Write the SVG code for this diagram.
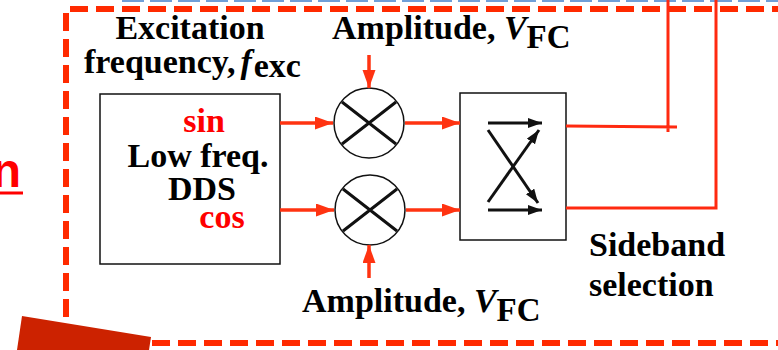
<svg xmlns="http://www.w3.org/2000/svg" width="778" height="350" viewBox="0 0 778 350">
<style>
.t{font-family:"Liberation Serif","Times New Roman",serif;font-weight:bold;font-size:34px;fill:#000}
.r{fill:#ff0000}
.box{fill:#fff;stroke:#111;stroke-width:1.5}
.mix{fill:#fff;stroke:#111;stroke-width:1.5}
.x{stroke:#111;stroke-width:3;fill:none}
.ra{stroke:#ff3311;stroke-width:3.5;fill:none;marker-end:url(#rh)}
.ba{stroke:#111;stroke-width:3;fill:none;marker-end:url(#bh)}
.out{stroke:#ff2a10;stroke-width:3;fill:none}
.dash{stroke:#ff2a00;stroke-width:6;fill:none;stroke-dasharray:18 8}
</style>
<defs>
<marker id="rh" markerUnits="userSpaceOnUse" markerWidth="20" markerHeight="14" refX="18" refY="6.5" orient="auto">
<path d="M0,0 L18,6.5 L0,13 z" fill="#ff3311"/>
</marker>
<marker id="bh" markerUnits="userSpaceOnUse" markerWidth="16" markerHeight="12" refX="14" refY="5" orient="auto">
<path d="M0,0 L14,5 L0,10 z" fill="#111"/>
</marker>
</defs>
<rect width="778" height="350" fill="#fff"/>
<g id="frame">
<line x1="122" y1="1" x2="778" y2="1" stroke="#6f9fd8" stroke-width="2" stroke-dasharray="22 6"/>
<path class="dash" d="M790,9 L66,9 L66,343 L790,343"/>
<polygon points="22,316 151,337 149,350 17,350" fill="#cc2200"/>
<text x="21" y="187" text-anchor="end" style="font-family:'Liberation Sans',Arial,sans-serif;font-weight:bold;font-size:48px" fill="#ff0000">n</text>
<line x1="0" y1="193" x2="23" y2="193" stroke="#ff0000" stroke-width="3"/>
</g>
<g id="labels">
<text class="t" x="190" y="39" text-anchor="middle">Excitation</text>
<text class="t" x="84" y="73">frequency,<tspan dx="5" font-style="italic">f</tspan><tspan dx="2" dy="4">exc</tspan></text>
<text class="t" x="332" y="39">Amplitude, <tspan font-style="italic">V</tspan><tspan dy="9" font-size="33">FC</tspan></text>
<text class="t" x="302" y="312">Amplitude, <tspan font-style="italic">V</tspan><tspan dy="9" font-size="33">FC</tspan></text>
<text class="t" x="589" y="256">Sideband</text>
<text class="t" x="589" y="296">selection</text>
</g>
<g id="dds">
<rect class="box" x="100" y="94" width="180" height="170"/>
<text class="t r" x="204" y="132" text-anchor="middle">sin</text>
<text class="t" x="198" y="167" text-anchor="middle">Low freq.</text>
<text class="t" x="202" y="200" text-anchor="middle">DDS</text>
<text class="t r" x="222" y="228" text-anchor="middle">cos</text>
</g>
<g id="mixer-top">
<circle class="mix" cx="369" cy="123" r="35"/>
<path class="x" d="M342,102 L396,144 M342,144 L396,102"/>
</g>
<g id="mixer-bottom">
<circle class="mix" cx="370" cy="210" r="35"/>
<path class="x" d="M343,189 L397,231 M343,231 L397,189"/>
</g>
<g id="sideband">
<rect class="box" x="460" y="93" width="106" height="147"/>
<line class="ba" x1="488" y1="123" x2="542" y2="123"/>
<line class="ba" x1="488" y1="210" x2="542" y2="210"/>
<line class="ba" x1="488" y1="130" x2="538" y2="203"/>
<line class="ba" x1="488" y1="202" x2="539" y2="130"/>
</g>
<g id="connectors">
<line class="ra" x1="280" y1="123" x2="333" y2="123"/>
<line class="ra" x1="405" y1="123" x2="460" y2="123"/>
<line class="ra" x1="280" y1="210" x2="334" y2="210"/>
<line class="ra" x1="406" y1="210" x2="460" y2="210"/>
<line class="ra" x1="369" y1="55" x2="369" y2="88"/>
<line class="ra" x1="369" y1="278" x2="369" y2="245"/>
<path class="out" d="M566,126 L677,127 M668,0 L668,132"/>
<path class="out" d="M566,208 L716,208 L716,0"/>
</g>
</svg>
